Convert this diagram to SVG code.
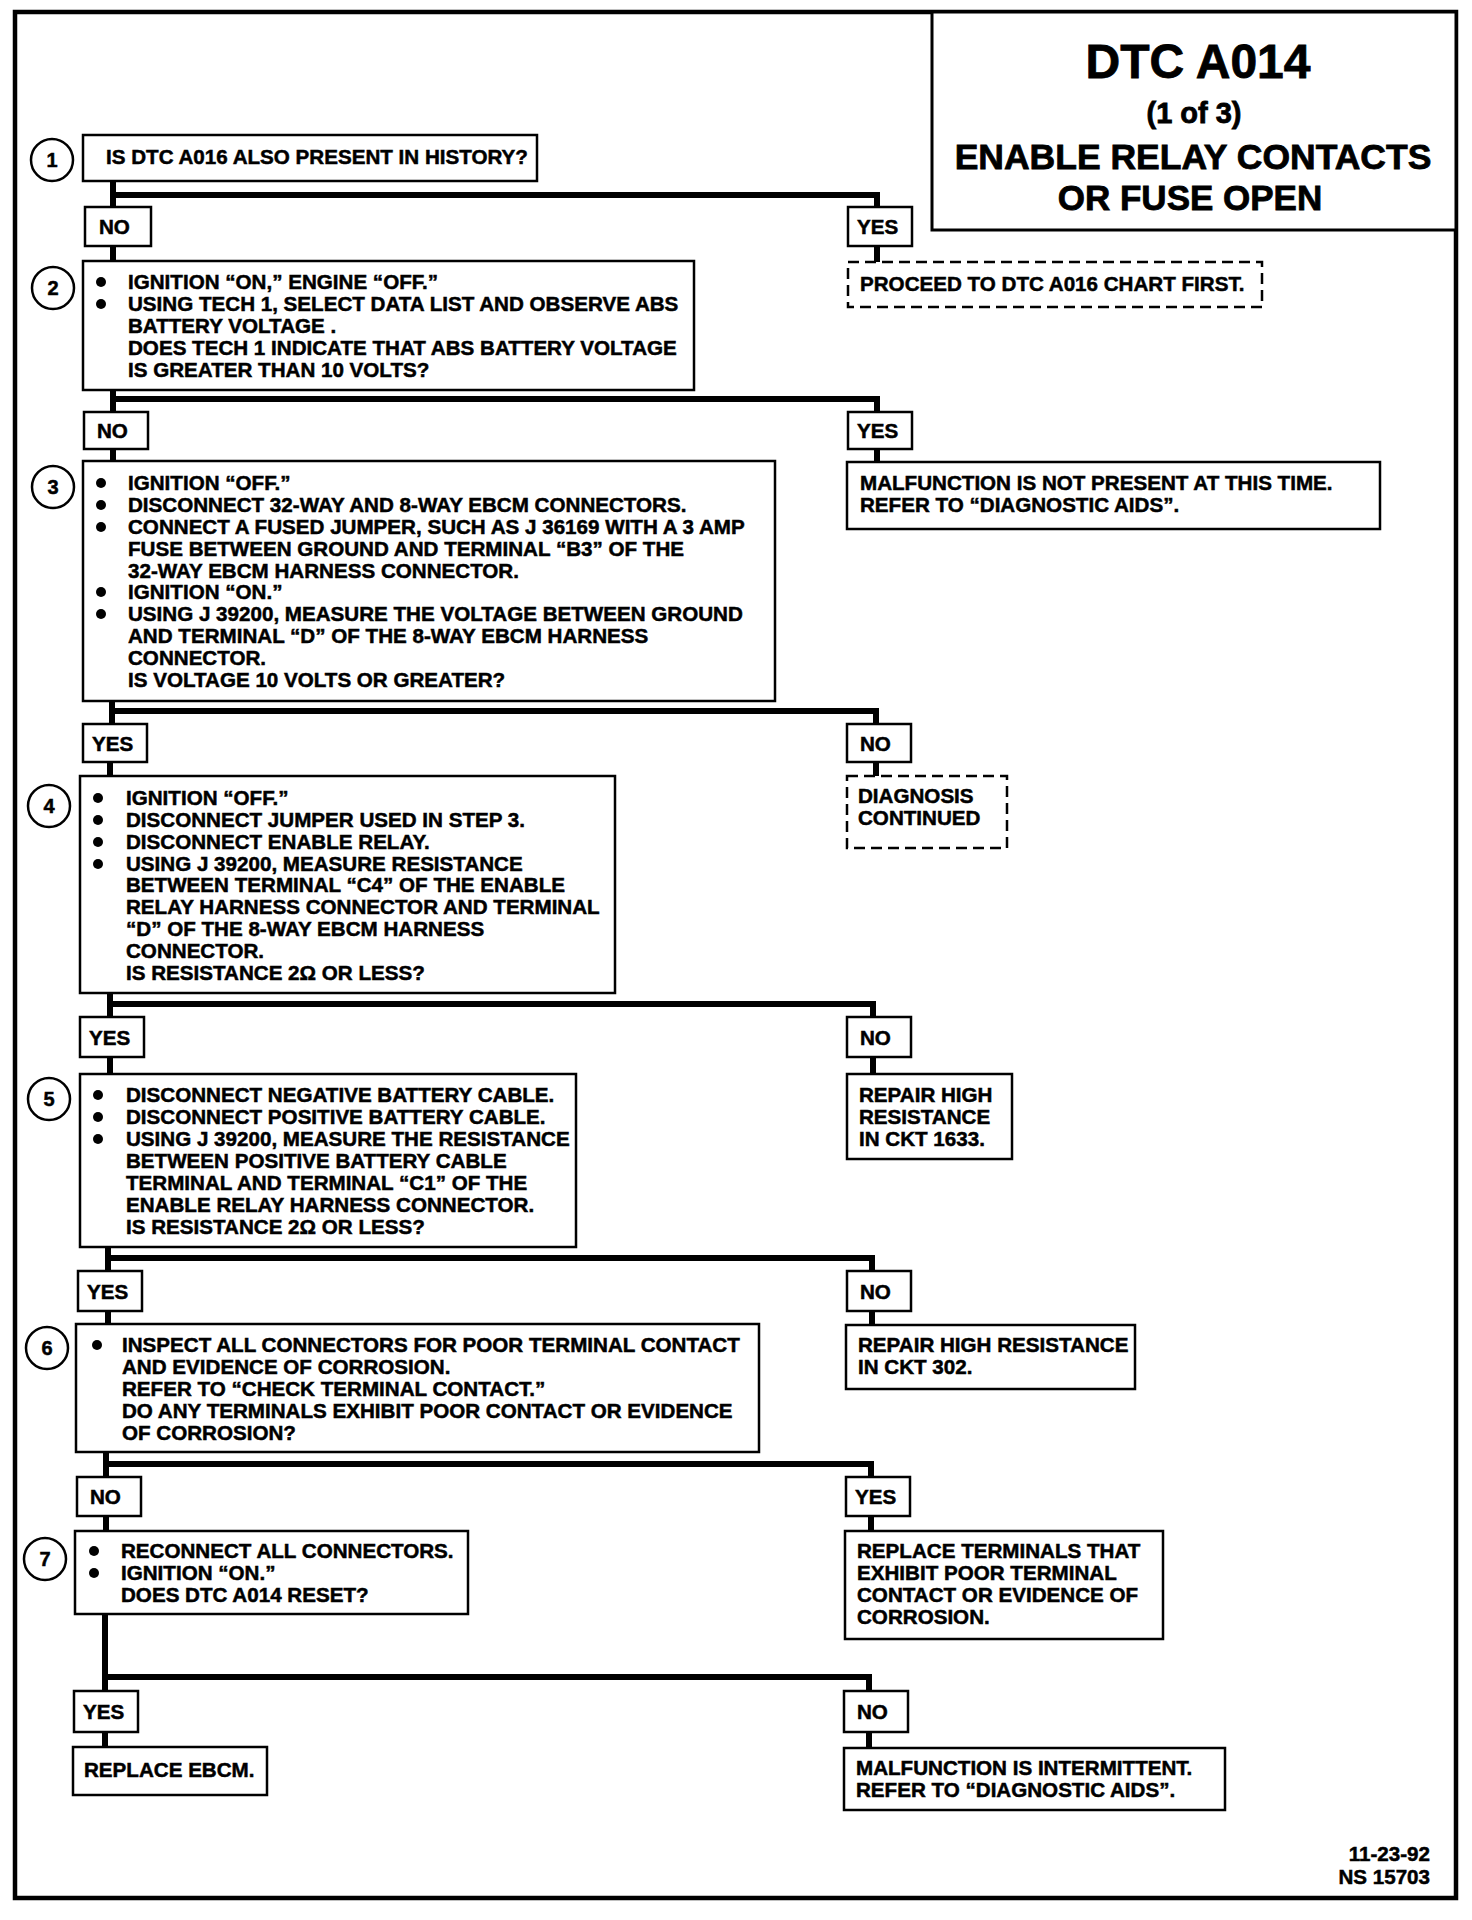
<svg xmlns="http://www.w3.org/2000/svg" width="1472" height="1920" viewBox="0 0 1472 1920">
<style>
text { font-family: "Liberation Sans", Arial, sans-serif; font-weight: bold; fill: #000; stroke: #000; stroke-width: 0.5; }
.t { font-size: 20.6px; }
.box { fill: #fff; stroke: #000; stroke-width: 2.5; }
.dash { fill: #fff; stroke: #000; stroke-width: 2.5; stroke-dasharray: 11 6; }
.lbl { fill: #fff; stroke: #000; stroke-width: 2.5; }
.num { fill: #fff; stroke: #000; stroke-width: 2.5; }
.ntxt { font-size: 20px; text-anchor: middle; }
.conn { fill: none; stroke: #000; stroke-width: 6; stroke-linecap: square; }
.bul { fill: #000; }
.ttl { stroke-width: 0.8; text-anchor: middle; }
</style>
<rect x="0" y="0" width="1472" height="1920" fill="#fff"/>
<rect id="frame" x="15" y="12" width="1441" height="1886" fill="none" stroke="#000" stroke-width="4.5"/>

<g id="title">
<rect x="932" y="12" width="524" height="218" fill="#fff" stroke="#000" stroke-width="3"/>
<text class="ttl" x="1198" y="78" font-size="48">DTC A014</text>
<text class="ttl" x="1194" y="123" font-size="29">(1 of 3)</text>
<text class="ttl" x="1193" y="169" font-size="35.5">ENABLE RELAY CONTACTS</text>
<text class="ttl" x="1190" y="210" font-size="35">OR FUSE OPEN</text>
</g>

<g id="connectors">
<path class="conn" d="M113 181 V261 M113 195 H877 V262"/>
<path class="conn" d="M113 390 V461 M113 399 H877 V462"/>
<path class="conn" d="M112 701 V724 M112 711 H876 V776 M110 760 V776"/>
<path class="conn" d="M110 993 V1074 M110 1004 H873 V1074"/>
<path class="conn" d="M108 1247 V1324 M108 1258 H872 V1325"/>
<path class="conn" d="M106 1452 V1531 M106 1464 H871 V1531"/>
<path class="conn" d="M105 1614 V1747 M105 1677 H869 V1748"/>
</g>

<g id="step1">
<circle class="num" cx="52" cy="160" r="21"/>
<text class="ntxt" x="52" y="167">1</text>
<rect class="box" x="83" y="135" width="454" height="46"/>
<text class="t" x="106" y="164">IS DTC A016 ALSO PRESENT IN HISTORY?</text>
</g>

<g id="no1"><rect class="lbl" x="85" y="207" width="66" height="39"/><text class="t" x="99" y="234">NO</text></g>
<g id="yes1"><rect class="lbl" x="848" y="207" width="64" height="39"/><text class="t" x="857" y="234">YES</text></g>

<g id="proceed">
<rect class="dash" x="848" y="262" width="414" height="45"/>
<text class="t" x="860" y="291">PROCEED TO DTC A016 CHART FIRST.</text>
</g>

<g id="step2">
<circle class="num" cx="53" cy="288" r="21"/>
<text class="ntxt" x="53" y="295">2</text>
<rect class="box" x="83" y="261" width="611" height="129"/>
<circle class="bul" cx="101" cy="282" r="5"/>
<circle class="bul" cx="101" cy="304" r="5"/>
<text class="t" x="128" y="289">IGNITION “ON,” ENGINE “OFF.”</text>
<text class="t" x="128" y="311">USING TECH 1, SELECT DATA LIST AND OBSERVE ABS</text>
<text class="t" x="128" y="333">BATTERY VOLTAGE .</text>
<text class="t" x="128" y="355">DOES TECH 1 INDICATE THAT ABS BATTERY VOLTAGE</text>
<text class="t" x="128" y="377">IS GREATER THAN  10 VOLTS?</text>
</g>

<g id="no2"><rect class="lbl" x="84" y="412" width="64" height="37"/><text class="t" x="97" y="438">NO</text></g>
<g id="yes2"><rect class="lbl" x="848" y="412" width="64" height="37"/><text class="t" x="857" y="438">YES</text></g>

<g id="notpresent">
<rect class="box" x="847" y="462" width="533" height="67"/>
<text class="t" x="860" y="490">MALFUNCTION IS NOT PRESENT AT THIS TIME.</text>
<text class="t" x="860" y="512">REFER TO “DIAGNOSTIC AIDS”.</text>
</g>

<g id="step3">
<circle class="num" cx="53" cy="487" r="21"/>
<text class="ntxt" x="53" y="494">3</text>
<rect class="box" x="83" y="461" width="692" height="240"/>
<circle class="bul" cx="101" cy="483" r="5"/>
<circle class="bul" cx="101" cy="505" r="5"/>
<circle class="bul" cx="101" cy="527" r="5"/>
<circle class="bul" cx="101" cy="592" r="5"/>
<circle class="bul" cx="101" cy="614" r="5"/>
<text class="t" x="128" y="490">IGNITION “OFF.”</text>
<text class="t" x="128" y="512">DISCONNECT  32-WAY AND 8-WAY EBCM CONNECTORS.</text>
<text class="t" x="128" y="534">CONNECT A FUSED JUMPER, SUCH AS J 36169 WITH A 3 AMP</text>
<text class="t" x="128" y="556">FUSE BETWEEN GROUND AND TERMINAL “B3” OF THE</text>
<text class="t" x="128" y="578">32-WAY EBCM HARNESS CONNECTOR.</text>
<text class="t" x="128" y="599">IGNITION “ON.”</text>
<text class="t" x="128" y="621">USING J 39200, MEASURE THE VOLTAGE BETWEEN GROUND</text>
<text class="t" x="128" y="643">AND TERMINAL “D” OF THE 8-WAY EBCM HARNESS</text>
<text class="t" x="128" y="665">CONNECTOR.</text>
<text class="t" x="128" y="687">IS VOLTAGE 10 VOLTS OR GREATER?</text>
</g>

<g id="yes3"><rect class="lbl" x="83" y="724" width="64" height="38"/><text class="t" x="92" y="751">YES</text></g>
<g id="no3"><rect class="lbl" x="847" y="724" width="64" height="38"/><text class="t" x="860" y="751">NO</text></g>

<g id="diagcont">
<rect class="dash" x="847" y="776" width="160" height="72"/>
<text class="t" x="858" y="803">DIAGNOSIS</text>
<text class="t" x="858" y="825">CONTINUED</text>
</g>

<g id="step4">
<circle class="num" cx="49" cy="806" r="21"/>
<text class="ntxt" x="49" y="813">4</text>
<rect class="box" x="80" y="776" width="535" height="217"/>
<circle class="bul" cx="98" cy="798" r="5"/>
<circle class="bul" cx="98" cy="820" r="5"/>
<circle class="bul" cx="98" cy="842" r="5"/>
<circle class="bul" cx="98" cy="864" r="5"/>
<text class="t" x="126" y="805">IGNITION “OFF.”</text>
<text class="t" x="126" y="827">DISCONNECT JUMPER USED IN STEP 3.</text>
<text class="t" x="126" y="849">DISCONNECT ENABLE RELAY.</text>
<text class="t" x="126" y="871">USING J 39200, MEASURE RESISTANCE</text>
<text class="t" x="126" y="892">BETWEEN TERMINAL “C4” OF THE ENABLE</text>
<text class="t" x="126" y="914">RELAY HARNESS CONNECTOR AND TERMINAL</text>
<text class="t" x="126" y="936">“D” OF THE 8-WAY EBCM HARNESS</text>
<text class="t" x="126" y="958">CONNECTOR.</text>
<text class="t" x="126" y="980">IS RESISTANCE 2Ω OR LESS?</text>
</g>

<g id="yes4"><rect class="lbl" x="80" y="1017" width="64" height="40"/><text class="t" x="89" y="1045">YES</text></g>
<g id="no4"><rect class="lbl" x="847" y="1017" width="64" height="40"/><text class="t" x="860" y="1045">NO</text></g>

<g id="repair1633">
<rect class="box" x="847" y="1074" width="165" height="85"/>
<text class="t" x="859" y="1102">REPAIR HIGH</text>
<text class="t" x="859" y="1124">RESISTANCE</text>
<text class="t" x="859" y="1146">IN CKT 1633.</text>
</g>

<g id="step5">
<circle class="num" cx="49" cy="1099" r="21"/>
<text class="ntxt" x="49" y="1106">5</text>
<rect class="box" x="80" y="1074" width="496" height="173"/>
<circle class="bul" cx="98" cy="1095" r="5"/>
<circle class="bul" cx="98" cy="1117" r="5"/>
<circle class="bul" cx="98" cy="1139" r="5"/>
<text class="t" x="126" y="1102">DISCONNECT NEGATIVE BATTERY CABLE.</text>
<text class="t" x="126" y="1124">DISCONNECT POSITIVE BATTERY CABLE.</text>
<text class="t" x="126" y="1146">USING J 39200, MEASURE THE RESISTANCE</text>
<text class="t" x="126" y="1168">BETWEEN POSITIVE BATTERY CABLE</text>
<text class="t" x="126" y="1190">TERMINAL AND TERMINAL “C1” OF THE</text>
<text class="t" x="126" y="1212">ENABLE RELAY HARNESS CONNECTOR.</text>
<text class="t" x="126" y="1234">IS RESISTANCE 2Ω OR LESS?</text>
</g>

<g id="yes5"><rect class="lbl" x="78" y="1271" width="64" height="40"/><text class="t" x="87" y="1299">YES</text></g>
<g id="no5"><rect class="lbl" x="847" y="1271" width="64" height="40"/><text class="t" x="860" y="1299">NO</text></g>

<g id="repair302">
<rect class="box" x="846" y="1325" width="289" height="64"/>
<text class="t" x="858" y="1352">REPAIR HIGH RESISTANCE</text>
<text class="t" x="858" y="1374">IN CKT 302.</text>
</g>

<g id="step6">
<circle class="num" cx="47" cy="1348" r="21"/>
<text class="ntxt" x="47" y="1355">6</text>
<rect class="box" x="76" y="1324" width="683" height="128"/>
<circle class="bul" cx="97" cy="1345" r="5"/>
<text class="t" x="122" y="1352">INSPECT ALL CONNECTORS FOR POOR TERMINAL CONTACT</text>
<text class="t" x="122" y="1374">AND EVIDENCE OF CORROSION.</text>
<text class="t" x="122" y="1396">REFER TO  “CHECK TERMINAL CONTACT.”</text>
<text class="t" x="122" y="1418">DO ANY TERMINALS EXHIBIT POOR CONTACT OR EVIDENCE</text>
<text class="t" x="122" y="1440">OF CORROSION?</text>
</g>

<g id="no6"><rect class="lbl" x="77" y="1477" width="64" height="39"/><text class="t" x="90" y="1504">NO</text></g>
<g id="yes6"><rect class="lbl" x="846" y="1477" width="64" height="39"/><text class="t" x="855" y="1504">YES</text></g>

<g id="replaceterm">
<rect class="box" x="845" y="1531" width="318" height="108"/>
<text class="t" x="857" y="1558">REPLACE TERMINALS THAT</text>
<text class="t" x="857" y="1580">EXHIBIT POOR TERMINAL</text>
<text class="t" x="857" y="1602">CONTACT OR EVIDENCE OF</text>
<text class="t" x="857" y="1624">CORROSION.</text>
</g>

<g id="step7">
<circle class="num" cx="45" cy="1559" r="21"/>
<text class="ntxt" x="45" y="1566">7</text>
<rect class="box" x="75" y="1531" width="393" height="83"/>
<circle class="bul" cx="94" cy="1551" r="5"/>
<circle class="bul" cx="94" cy="1573" r="5"/>
<text class="t" x="121" y="1558">RECONNECT ALL CONNECTORS.</text>
<text class="t" x="121" y="1580">IGNITION “ON.”</text>
<text class="t" x="121" y="1602">DOES DTC A014 RESET?</text>
</g>

<g id="yes7"><rect class="lbl" x="74" y="1691" width="64" height="41"/><text class="t" x="83" y="1719">YES</text></g>
<g id="no7"><rect class="lbl" x="844" y="1691" width="64" height="41"/><text class="t" x="857" y="1719">NO</text></g>

<g id="replaceebcm">
<rect class="box" x="73" y="1747" width="194" height="48"/>
<text class="t" x="84" y="1777">REPLACE EBCM.</text>
</g>

<g id="intermittent">
<rect class="box" x="844" y="1748" width="381" height="62"/>
<text class="t" x="856" y="1775">MALFUNCTION IS INTERMITTENT.</text>
<text class="t" x="856" y="1797">REFER TO “DIAGNOSTIC AIDS”.</text>
</g>

<g id="footer">
<text class="t" x="1430" y="1861" text-anchor="end">11-23-92</text>
<text class="t" x="1430" y="1884" text-anchor="end">NS 15703</text>
</g>
</svg>
